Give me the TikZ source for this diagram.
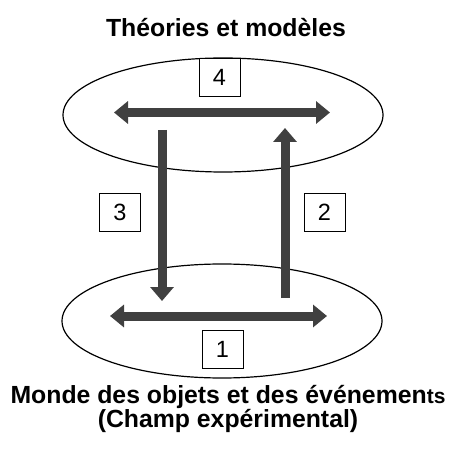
\documentclass[tikz,border=0pt]{standalone}
\usepackage{fontspec}
\setmainfont{Liberation Sans}
\usetikzlibrary{shapes.geometric,arrows.meta}
\definecolor{arrowgray}{HTML}{404040}
\tikzset{
  world/.style={draw=black, line width=1.2pt, ellipse, inner sep=0pt, minimum width=320pt, minimum height=114pt},
  numbox/.style={draw=black, line width=0.7pt, fill=white, inner sep=0pt, minimum width=41pt, minimum height=38pt, font=\fontsize{23.5}{26}\selectfont},
  fatarrow/.style={draw=arrowgray, line width=9pt, -{Triangle[width=23pt,length=14pt]}},
  fatdouble/.style={draw=arrowgray, line width=9pt, {Triangle[width=22pt,length=14pt]}-{Triangle[width=22pt,length=14pt]}},
  heading/.style={font=\bfseries\fontsize{24.8}{22.5}\selectfont, inner sep=0pt, align=center}
}
\begin{document}
\begin{tikzpicture}[x=1pt,y=1pt]
\useasboundingbox (0,0) rectangle (457,450);
\node[heading] (title) at (226,422) {Théories et modèles};
\node[world] (top) at (223,335) {};
\node[world] (bottom) at (222,129) {};
\coordinate (t4l) at (114,337.5);
\coordinate (t4r) at (330,337.5);
\coordinate (b1l) at (110,134);
\coordinate (b1r) at (327,134);
\coordinate (d3s) at (162,320);
\coordinate (d3e) at (162,149);
\coordinate (u2s) at (285,152);
\coordinate (u2e) at (285,322);
\draw[fatdouble] (t4l) -- (t4r);
\draw[fatdouble] (b1l) -- (b1r);
\draw[fatarrow] (d3s) -- (d3e);
\draw[fatarrow] (u2s) -- (u2e);
\node[numbox] (n4) at (219.5,373) {4};
\node[numbox] (n1) at (222.5,101) {1};
\node[numbox] (n3) at (120,237.5) {3};
\node[numbox] (n2) at (324.5,237.5) {2};
\node[heading] (world) at (228,41) {Monde des objets et des événemen{\fontsize{21}{22.5}\selectfont ts}\\(Champ expérimental)};
\end{tikzpicture}
\end{document}
